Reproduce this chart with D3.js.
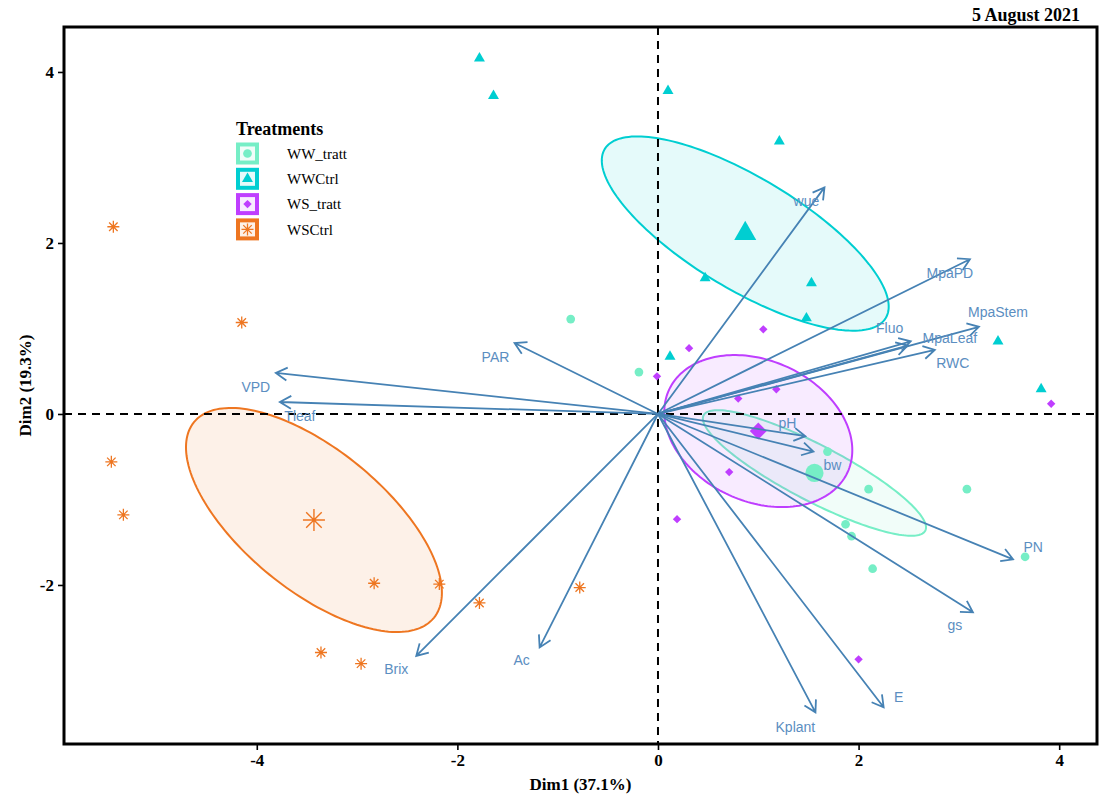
<!DOCTYPE html>
<html>
<head>
<meta charset="utf-8">
<script src="https://cdn.jsdelivr.net/npm/d3@7"></script>
<style>
body { margin: 0; background: #fff; }
svg { display: block; }
</style>
</head>
<body>
<svg id="chart" width="1115" height="804"></svg>
<script>
"use strict";

// treatments
const groups = ["WW_tratt", "WWCtrl", "WS_tratt", "WSCtrl"];
const groupColors = ["#76EEC6", "#00CED1", "#BF3EFF", "#EE7621"];
const groupShapes = ["circle", "triangle", "diamond", "star"];

// individuals, coordinates on Dim1 / Dim2
const wwTrattX = [-0.87, -0.19, 1.69, 2.10, 3.08, 1.87, 1.93, 2.14, 3.66];
const wwTrattY = [1.11, 0.49, -0.44, -0.88, -0.88, -1.29, -1.43, -1.81, -1.67];
const wwCtrlX = [-1.78, -1.64, 0.10, 1.21, 0.47, 1.53, 1.48, 0.12, 3.39, 3.82];
const wwCtrlY = [4.16, 3.72, 3.78, 3.19, 1.59, 1.53, 1.12, 0.67, 0.85, 0.29];
const wsTrattX = [1.05, 0.31, -0.01, 0.80, 1.18, 0.71, 0.19, 2.00, 3.92];
const wsTrattY = [0.99, 0.77, 0.44, 0.18, 0.29, -0.68, -1.23, -2.87, 0.12];
const wsCtrlX = [-5.43, -4.15, -5.45, -5.33, -2.83, -2.18, -1.78, -0.78, -3.36, -2.96];
const wsCtrlY = [2.19, 1.07, -0.56, -1.18, -1.98, -1.99, -2.21, -2.03, -2.79, -2.92];

// group means
const meanX = [1.56, 0.87, 1.00, -3.43];
const meanY = [-0.69, 2.11, -0.20, -1.24];

// confidence ellipses: two semi-axis vectors per group (Dim1, Dim2 units)
const ellUx = [1.105, 1.401, 0.890, 1.196];
const ellUy = [-0.675, -0.988, -0.482, -1.144];
const ellVx = [-0.129, -0.288, -0.294, -0.444];
const ellVy = [-0.290, -0.561, -0.747, -0.639];

// variables
const varNames = ["wue", "MpaPD", "MpaStem", "Fluo", "MpaLeaf", "RWC", "pH", "bw", "PN",
                  "gs", "E", "Kplant", "Ac", "Brix", "PAR", "VPD", "Tleaf"];
const varX = [1.66, 3.11, 3.20, 2.49, 2.52, 2.76, 1.47, 1.55, 3.54,
              3.14, 2.25, 1.57, -1.18, -2.41, -1.43, -3.81, -3.77];
const varY = [2.65, 1.81, 1.02, 0.80, 0.85, 0.75, -0.26, -0.44, -1.70,
              -2.32, -3.43, -3.49, -2.73, -2.83, 0.83, 0.48, 0.14];
const varLabX = [1.48, 2.91, 3.39, 2.31, 2.91, 2.94, 1.29, 1.74, 3.74,
                 2.96, 2.40, 1.37, -1.36, -2.61, -1.62, -4.01, -3.57];
const varLabY = [2.49, 1.65, 1.19, 1.01, 0.89, 0.60, -0.11, -0.60, -1.56,
                 -2.47, -3.31, -3.66, -2.88, -2.98, 0.67, 0.32, -0.02];

const xTicks = [-4, -2, 0, 2, 4];
const yTicks = [-2, 0, 2, 4];

const indX = [wwTrattX, wwCtrlX, wsTrattX, wsCtrlX];
const indY = [wwTrattY, wwCtrlY, wsTrattY, wsCtrlY];

const margin = {left: 64, right: 18, top: 27, bottom: 60};
const W = 1115, H = 804;

const svg = d3.select("#chart");

const x = d3.scaleLinear()
            .domain([-5.922, 4.377])
            .range([margin.left, W - margin.right]);
const y = d3.scaleLinear()
            .domain([-3.86, 4.526])
            .range([H - margin.bottom, margin.top]);

const serif = "'Liberation Serif', 'DejaVu Serif', serif";
const sans = "'Liberation Sans', Arial, sans-serif";
const arrowColor = "#4682B4";
const labelColor = "#5B8EC1";

// symbol path for each shape, centred at 0,0
function shapePath(shape, big)
{
    if (shape === "star")
    {
        const s = big ? 11 : 6;
        const d = s * 0.7071;
        return "M" + (-s) + ",0L" + s + ",0M0," + (-s) + "L0," + s +
               "M" + (-d) + "," + (-d) + "L" + d + "," + d +
               "M" + (-d) + "," + d + "L" + d + "," + (-d);
    }
    if (shape === "diamond")
    {
        const s = big ? 8.5 : 4.2;
        return "M0," + (-s) + "L" + s + ",0L0," + s + "L" + (-s) + ",0Z";
    }
    const types = {circle: d3.symbolCircle, triangle: d3.symbolTriangle};
    const sizes = {circle: big ? 260 : 60, triangle: big ? 210 : 52};
    return d3.symbol().type(types[shape]).size(sizes[shape])();
}

function drawShape(g, shape, color, px, py, big)
{
    const p = g.append("path")
               .attr("d", shapePath(shape, big))
               .attr("transform", "translate(" + px + "," + py + ")");
    if (shape === "star")
        p.attr("fill", "none").attr("stroke", color).attr("stroke-width", big ? 1.4 : 1.3);
    else
        p.attr("fill", color);
}

// plot clip
svg.append("clipPath")
   .attr("id", "clip")
   .append("rect")
   .attr("x", margin.left).attr("y", margin.top)
   .attr("width", W - margin.right - margin.left)
   .attr("height", H - margin.bottom - margin.top);

const plot = svg.append("g").attr("clip-path", "url(#clip)");

// ellipses
const ellLine = d3.line().curve(d3.curveLinearClosed);
const steps = d3.range(0, 360, 2);
groups.forEach((grp, i) =>
{
    const pts = steps.map((deg) =>
    {
        const t = deg * Math.PI / 180;
        return [x(meanX[i] + Math.cos(t) * ellUx[i] + Math.sin(t) * ellVx[i]),
                y(meanY[i] + Math.cos(t) * ellUy[i] + Math.sin(t) * ellVy[i])];
    });
    plot.append("path")
        .attr("d", ellLine(pts))
        .attr("fill", groupColors[i])
        .attr("fill-opacity", 0.1)
        .attr("stroke", groupColors[i])
        .attr("stroke-width", 2);
});

// reference lines
plot.append("line")
    .attr("x1", x(0)).attr("x2", x(0))
    .attr("y1", margin.top).attr("y2", H - margin.bottom)
    .attr("stroke", "#000").attr("stroke-width", 2).attr("stroke-dasharray", "8,6");
plot.append("line")
    .attr("x1", margin.left).attr("x2", W - margin.right)
    .attr("y1", y(0)).attr("y2", y(0))
    .attr("stroke", "#000").attr("stroke-width", 2).attr("stroke-dasharray", "8,6");

// individuals
groups.forEach((grp, i) =>
{
    indX[i].forEach((v, j) => drawShape(plot, groupShapes[i], groupColors[i], x(v), y(indY[i][j]), false));
});
groups.forEach((grp, i) => drawShape(plot, groupShapes[i], groupColors[i], x(meanX[i]), y(meanY[i]), true));

// variable arrows
const ox = x(0), oy = y(0);
varNames.forEach((name, i) =>
{
    const tx = x(varX[i]), ty = y(varY[i]);
    const ang = Math.atan2(ty - oy, tx - ox);
    const head = 13, spread = Math.PI / 6;
    const h1 = [tx - head * Math.cos(ang - spread), ty - head * Math.sin(ang - spread)];
    const h2 = [tx - head * Math.cos(ang + spread), ty - head * Math.sin(ang + spread)];
    plot.append("path")
        .attr("d", "M" + ox + "," + oy + "L" + tx + "," + ty +
                   "M" + h1[0] + "," + h1[1] + "L" + tx + "," + ty + "L" + h2[0] + "," + h2[1])
        .attr("fill", "none")
        .attr("stroke", arrowColor)
        .attr("stroke-width", 1.8)
        .attr("stroke-linejoin", "miter");
    plot.append("text")
        .attr("x", x(varLabX[i]))
        .attr("y", y(varLabY[i]))
        .attr("dy", "0.35em")
        .attr("text-anchor", "middle")
        .attr("font-family", sans)
        .attr("font-size", 14)
        .attr("fill", labelColor)
        .text(name);
});

// axes
const fmt = (d) => String(d);
const xAxis = svg.append("g")
                 .attr("transform", "translate(0," + (H - margin.bottom) + ")")
                 .call(d3.axisBottom(x).tickValues(xTicks).tickFormat(fmt)
                         .tickSize(6).tickPadding(4).tickSizeOuter(0));
const yAxis = svg.append("g")
                 .attr("transform", "translate(" + margin.left + ",0)")
                 .call(d3.axisLeft(y).tickValues(yTicks).tickFormat(fmt)
                         .tickSize(6).tickPadding(4).tickSizeOuter(0));
[xAxis, yAxis].forEach((a) =>
{
    a.select(".domain").remove();
    a.selectAll(".tick line").attr("stroke", "#000").attr("stroke-width", 1.6);
    a.selectAll(".tick text")
     .attr("font-family", serif)
     .attr("font-weight", "bold")
     .attr("font-size", 17)
     .attr("fill", "#000");
});

// frame
svg.append("rect")
   .attr("x", margin.left).attr("y", margin.top)
   .attr("width", W - margin.right - margin.left)
   .attr("height", H - margin.bottom - margin.top)
   .attr("fill", "none")
   .attr("stroke", "#000")
   .attr("stroke-width", 3);

// titles
svg.append("text")
   .attr("x", 1080).attr("y", 21)
   .attr("text-anchor", "end")
   .attr("font-family", serif).attr("font-weight", "bold").attr("font-size", 18)
   .text("5 August 2021");
svg.append("text")
   .attr("x", (margin.left + W - margin.right) / 2).attr("y", 790)
   .attr("text-anchor", "middle")
   .attr("font-family", serif).attr("font-weight", "bold").attr("font-size", 17)
   .text("Dim1 (37.1%)");
svg.append("text")
   .attr("transform", "translate(31," + ((margin.top + H - margin.bottom) / 2) + ") rotate(-90)")
   .attr("text-anchor", "middle")
   .attr("font-family", serif).attr("font-weight", "bold").attr("font-size", 17)
   .text("Dim2 (19.3%)");

// legend
const legend = svg.append("g").attr("transform", "translate(236,135)");
legend.append("text")
      .attr("x", 0).attr("y", 0)
      .attr("font-family", serif).attr("font-weight", "bold").attr("font-size", 18)
      .text("Treatments");
groups.forEach((grp, i) =>
{
    const cy = 18.5 + i * 25.3;
    legend.append("rect")
          .attr("x", 0).attr("y", cy - 11)
          .attr("width", 23).attr("height", 22)
          .attr("fill", groupColors[i]);
    legend.append("rect")
          .attr("x", 4).attr("y", cy - 7)
          .attr("width", 15).attr("height", 14)
          .attr("fill", "#fff");
    legend.append("rect")
          .attr("x", 4).attr("y", cy - 7)
          .attr("width", 15).attr("height", 14)
          .attr("fill", groupColors[i])
          .attr("fill-opacity", 0.1);
    drawShape(legend, groupShapes[i], groupColors[i], 11.5, cy, false);
    legend.append("text")
          .attr("x", 51).attr("y", cy)
          .attr("dy", "0.35em")
          .attr("font-family", serif).attr("font-size", 15)
          .text(grp);
});
</script>
</body>
</html>
